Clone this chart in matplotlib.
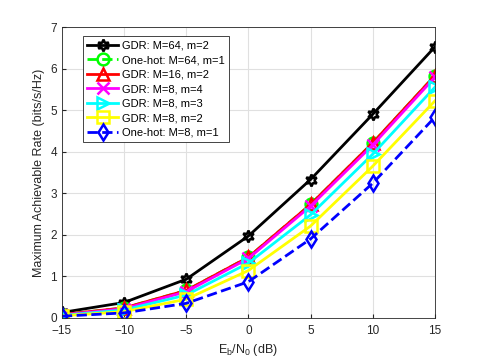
import numpy as np
import matplotlib
matplotlib.use('Agg')
import matplotlib.pyplot as plt

plt.rcParams['font.family'] = ['Liberation Sans', 'DejaVu Sans']

ebn0 = [-15, -10, -5, 0, 5, 10, 15]
gdr_64_2 = [0.13, 0.37, 0.93, 1.97, 3.33, 4.90, 6.52]
onehot_64_1 = [0.08, 0.24, 0.66, 1.46, 2.73, 4.21, 5.83]
gdr_16_2 = [0.08, 0.24, 0.66, 1.46, 2.73, 4.21, 5.83]
gdr_8_4 = [0.07, 0.22, 0.63, 1.43, 2.69, 4.16, 5.79]
gdr_8_3 = [0.06, 0.19, 0.55, 1.32, 2.48, 3.94, 5.55]
gdr_8_2 = [0.05, 0.15, 0.45, 1.14, 2.21, 3.65, 5.22]
onehot_8_1 = [0.04, 0.12, 0.35, 0.87, 1.90, 3.24, 4.83]

labels = ['GDR: M=64, m=2', 'One-hot: M=64, m=1', 'GDR: M=16, m=2',
          'GDR: M=8, m=4', 'GDR: M=8, m=3', 'GDR: M=8, m=2', 'One-hot: M=8, m=1']

fig = plt.figure(figsize=(4.8, 3.6), dpi=100)
ax = fig.add_axes([0.129, 0.117, 0.777, 0.808])

series = [gdr_64_2, onehot_64_1, gdr_16_2, gdr_8_4, gdr_8_3, gdr_8_2, onehot_8_1]
colors = ['k', (0, 1, 0), 'r', (1, 0, 1), (0, 1, 1), (1, 1, 0), 'b']
markers = [(6, 1, 0), 'o', '^', 'x', '>', 's', 'd']
styles = ['-', '--', '-', '-', '-', '-', '--']

for y, c, mk, ls, lab in zip(series, colors, markers, styles, labels):
    ax.plot(ebn0, y, color=c, linestyle=ls, marker=mk, markersize=8.5,
            markerfacecolor='none', markeredgewidth=1.8, linewidth=2, label=lab)

ax.set_xlim(-15, 15)
ax.set_ylim(0, 7)
ax.set_xticks([-15, -10, -5, 0, 5, 10, 15])
ax.set_yticks(range(0, 8))
ax.grid(True, color='#e0e0e0', linewidth=0.8)
ax.tick_params(direction='in', labelsize=8.5, length=3, color='#262626', labelcolor='#262626')
ax.tick_params(axis='x', pad=5)
for s in ax.spines.values():
    s.set_color('#262626')
    s.set_linewidth(0.6)
ax.set_xlabel('E$_\\mathregular{b}$/N$_\\mathregular{0}$ (dB)', fontsize=9, color='#262626')
ax.set_ylabel('Maximum Achievable Rate (bits/s/Hz)', fontsize=9, color='#262626')

leg = ax.legend(loc='upper left', bbox_to_anchor=(0.05, 0.975), fontsize=8,
                frameon=True, fancybox=False, edgecolor='#262626', framealpha=1,
                handlelength=2.8, borderpad=0.4, labelspacing=0.4, handletextpad=0.3,
                borderaxespad=0.2)
leg.get_frame().set_linewidth(0.6)

fig.savefig('out.png', dpi=100)
